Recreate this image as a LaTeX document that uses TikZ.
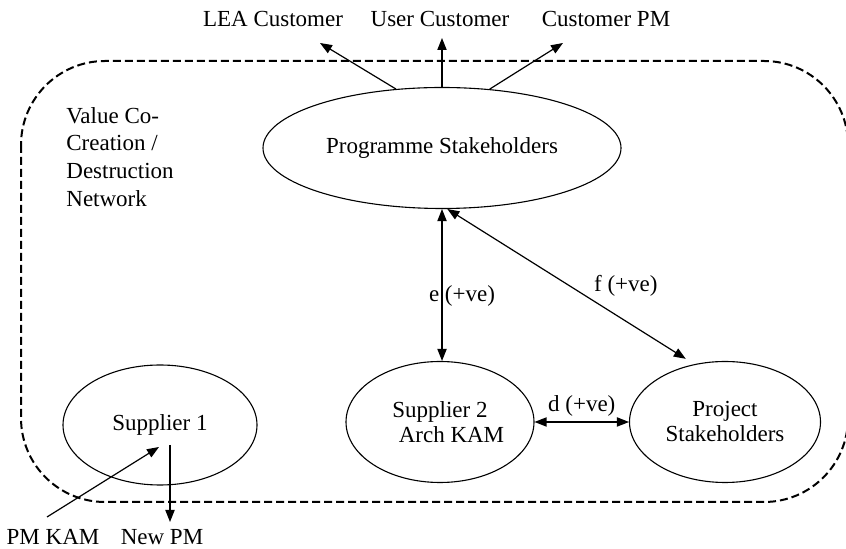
\documentclass[tikz,border=0pt]{standalone}
\usepackage{fontspec}
\setmainfont{Liberation Serif}
\usetikzlibrary{arrows.meta,shapes.geometric}

\begin{document}
\begin{tikzpicture}[x=0.5pt,y=-0.5pt,
  every node/.style={font=\fontsize{11.5}{13.8}\selectfont},
  party/.style={draw, ellipse, line width=0.55pt, inner sep=0pt, align=center,
    font=\fontsize{11.5}{12.5}\selectfont},
  tip/.tip={Triangle[length=6pt,width=4.6pt]},
  link/.style={line width=0.6pt, -tip},
  twoway/.style={line width=0.6pt, tip-tip},
  network/.style={dash pattern=on 4pt off 2pt, line width=1pt, rounded corners=42pt},
  tag/.style={anchor=base, inner sep=0pt},
  edgetag/.style={inner sep=0pt}
]
\useasboundingbox (0,0) rectangle (846,549);

% the network boundary
\draw[network] (21,61) rectangle (848,502);
\node[anchor=north west, align=left, inner sep=0pt] (netname) at (66,107)
  {Value Co-\\Creation /\\Destruction\\Network};

% stakeholder groups
\node[party, minimum width=179pt, minimum height=60.5pt] (prog) at (442,148) {Programme Stakeholders};
\node[party, minimum width=97pt, minimum height=60pt] (sup1) at (160,425) {Supplier 1};
\node[party, minimum width=94pt, minimum height=60.5pt] (sup2) at (440,422) {Supplier 2\\\hspace*{1em}Arch KAM};
\node[party, minimum width=95.5pt, minimum height=60.5pt] (proj) at (725,422) {Project\\Stakeholders};

% customer-side roles
\node[tag] (lea) at (273,27) {LEA Customer};
\node[tag] (user) at (440,27) {User Customer};
\node[tag] (cpm) at (606,27) {Customer PM};
\coordinate (leaend) at (320,43);
\coordinate (userend) at (442,38);
\coordinate (cpmend) at (563,43);
\draw[link] (prog.128) -- (leaend);
\draw[link] (prog.90) -- (userend);
\draw[link] (prog.51) -- (cpmend);

% value relations
\draw[twoway] (prog.south) -- node[edgetag, pos=0.57, xshift=10pt] {e (+ve)} (prog.south |- sup2.north);
\draw[twoway, shorten >=5pt] (prog.-85) -- node[edgetag, pos=0.723, yshift=17.5pt] {f (+ve)} (proj.118);
\draw[twoway] (sup2.east) -- node[above, inner sep=2.5pt] {d (+ve)} (proj.west);

% staff movement at supplier 1
\node[tag] (pmkam) at (53,545) {PM KAM};
\node[tag] (newpm) at (162,545) {New PM};
\coordinate (pmkamstart) at (47,517);
\coordinate (pmkamend) at (159,447);
\coordinate (newpmstart) at (170,445);
\coordinate (newpmend) at (170,522);
\draw[link] (pmkamstart) -- (pmkamend);
\draw[link] (newpmstart) -- (newpmend);
\end{tikzpicture}
\end{document}
